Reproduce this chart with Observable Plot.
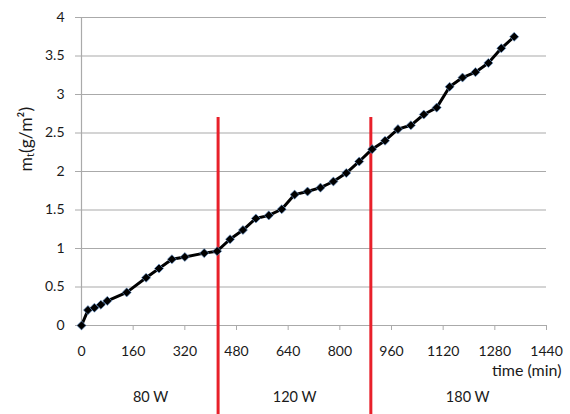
<!DOCTYPE html>
<html>
<head>
<meta charset="utf-8">
<script src="https://cdn.jsdelivr.net/npm/d3@7"></script>
<script src="https://cdn.jsdelivr.net/npm/@observablehq/plot@0.6"></script>
<style>
  html, body { margin: 0; padding: 0; background: #fff; overflow: hidden; }
</style>
</head>
<body>
<div id="chart"></div>
<script>
const times = [0, 20, 40, 60, 80, 140, 200, 240, 280, 320, 380, 420, 460, 500, 540, 580, 620, 660, 700, 740, 780, 820, 860, 900, 940, 980, 1020, 1060, 1100, 1140, 1180, 1220, 1260, 1300, 1340];
const values = [0, 0.2, 0.23, 0.27, 0.32, 0.43, 0.62, 0.74, 0.86, 0.89, 0.94, 0.965, 1.12, 1.24, 1.39, 1.43, 1.51, 1.70, 1.74, 1.79, 1.87, 1.98, 2.13, 2.29, 2.40, 2.55, 2.60, 2.74, 2.83, 3.10, 3.22, 3.29, 3.41, 3.60, 3.75];
const xTicks = [0, 160, 320, 480, 640, 800, 960, 1120, 1280, 1440];
const yTicks = [0, 0.5, 1, 1.5, 2, 2.5, 3, 3.5, 4];
const boundaries = [423, 896];
const boundaryTop = 2.7;
const boundaryBottom = -1.3;
const powerLabels = ["80 W", "120 W", "180 W"];
const powerLabelTimes = [214, 660, 1196];
const xLabel = "time (min)";
const yLabel = "mₜ(g/m²)";

const data = times.map((t, i) => ({t, v: values[i]}));
const powers = powerLabels.map((label, i) => ({label, t: powerLabelTimes[i]}));

const grey = "#aaaaaa";
const ink = "#1a1a1a";
const font = "Lato, 'Open Sans', sans-serif";

const chart = Plot.plot({
  width: 570,
  height: 414,
  marginLeft: 81,
  marginRight: 24,
  marginTop: 17,
  marginBottom: 89,
  style: {fontFamily: font, fontSize: "14px", color: ink, background: "#fff", overflow: "hidden"},
  x: {domain: [0, 1440]},
  y: {domain: [0, 4]},
  marks: [
    Plot.gridY(yTicks, {stroke: grey, strokeOpacity: 1, strokeWidth: 1.2}),
    Plot.axisY(yTicks, {tickSize: 6, tickPadding: 11, stroke: grey, label: null, tickFormat: d => String(d)}),
    Plot.ruleX([0], {y1: 0, y2: 4, stroke: grey, strokeWidth: 1.2}),
    Plot.ruleY([0], {stroke: grey, strokeWidth: 1.2}),
    Plot.axisX(xTicks, {tickSize: 5, tickPadding: 16, stroke: grey, label: null, tickFormat: d => String(d)}),
    Plot.ruleX(boundaries, {y1: boundaryTop, y2: boundaryBottom, stroke: "#e8202a", strokeWidth: 3}),
    Plot.line(data, {x: "t", y: "v", stroke: "#000", strokeWidth: 3}),
    Plot.dot(data, {x: "t", y: "v", symbol: "diamond2", r: 4.1, fill: "#000", stroke: "#6f9fd8", strokeWidth: 0.9, strokeOpacity: 0.7}),
    Plot.text(powers, {x: "t", text: "label", frameAnchor: "bottom", dy: 76, fill: ink, fontSize: 14.5}),
    Plot.text([xLabel], {frameAnchor: "bottom-right", dx: 15, dy: 50, textAnchor: "end", fill: ink, fontSize: 16}),
    Plot.text([yLabel], {frameAnchor: "left", dx: -55, dy: 0, rotate: -90, fill: ink, fontSize: 17.5})
  ]
});

document.getElementById("chart").appendChild(chart);
</script>
</body>
</html>
